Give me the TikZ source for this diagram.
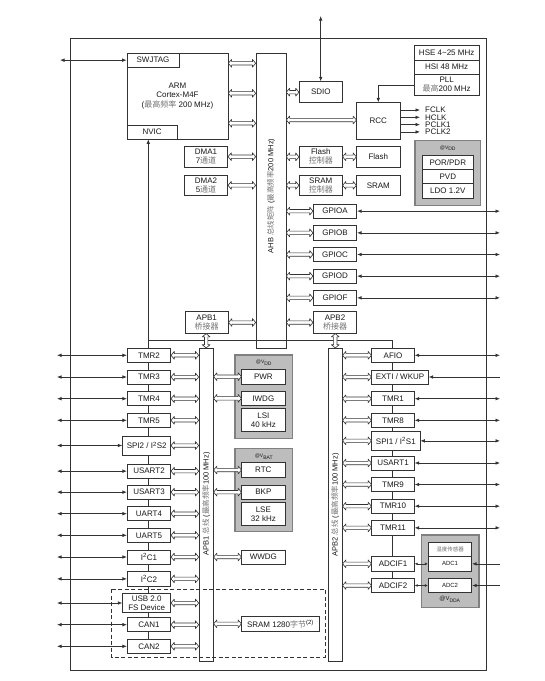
\documentclass[tikz,border=0pt]{standalone}
\usepackage{fontspec}
\setmainfont{Liberation Sans}
\newfontfamily\cjk{Noto Sans CJK SC}
\usetikzlibrary{arrows.meta,calc}
\definecolor{zhc}{gray}{0.45}
\definecolor{ln}{gray}{0.2}
\definecolor{txt}{gray}{0.1}
\newcommand\zh[1]{{\cjk\color{zhc}#1}}
\newcommand\blk[7][]{\node[box,minimum width={(#5-#3)*1pt},minimum height={(#6-#4)*1pt},#1] (#2) at ({(#3+#5)/2},{(#4+#6)/2}) {#7};}
\newcommand\harr[2]{%
 \path (#1) coordinate (hs) (#2) coordinate (he);
 \draw[hollow] (hs) -- ($(hs)!3.2pt!(he)!3.9pt!90:(he)$) -- ($(hs)!3.2pt!(he)!1.7pt!90:(he)$)
   -- ($(he)!3.2pt!(hs)!1.7pt!-90:(hs)$) -- ($(he)!3.2pt!(hs)!3.9pt!-90:(hs)$) -- (he)
   -- ($(he)!3.2pt!(hs)!3.9pt!90:(hs)$) -- ($(he)!3.2pt!(hs)!1.7pt!90:(hs)$)
   -- ($(hs)!3.2pt!(he)!1.7pt!-90:(he)$) -- ($(hs)!3.2pt!(he)!3.9pt!-90:(he)$) -- cycle;}
\tikzset{
  box/.style={draw=ln, fill=white, line width=0.7pt, inner sep=0pt, align=center, text=txt, font=\fontsize{8}{9}\selectfont},
  graybox/.style={draw=black!50, fill=black!26, line width=1.4pt},
  hollow/.style={draw=ln, fill=white, line width=0.6pt, line join=round},
  pin/.style={draw=ln, line width=0.7pt, {Latex[length=4.5pt,width=3.6pt]}-{Latex[length=4.5pt,width=3.6pt]}},
  pinin/.style={draw=ln, line width=0.7pt, {Latex[length=4.5pt,width=3.6pt]}-},
  wire/.style={draw=ln, line width=0.7pt},
  vlab/.style={font=\fontsize{7}{8}\selectfont, text=txt, inner sep=0pt},
  buslab/.style={rotate=90, font=\fontsize{7.5}{8}\selectfont, text=txt, inner sep=0pt},
}
\begin{document}
\begin{tikzpicture}[x=1pt,y=-1pt]
\useasboundingbox (0,0) rectangle (545,681);
\coordinate (pinL) at (57,0);
\coordinate (pinR) at (500,0);
\coordinate (sdtop) at (320.7,16);
% frame
\draw[wire] (70,38) rectangle (486,670);
% interrupt lines
\coordinate (jl) at (148.3,340);
\coordinate (jr) at (392.7,340);
% ---------- top part ----------
\blk{arm}{127}{53}{228}{139}{}
\node[font=\fontsize{8}{9.6}\selectfont, text=txt, align=center] (armtxt) at (177.5,96) {ARM\\Cortex-M4F\\(\zh{最高频率} 200 MHz)};
\blk{swj}{127}{53}{179}{67.3}{SWJTAG}
\blk{nvic}{127}{125}{177.3}{139}{NVIC}
\blk{dma1}{184.3}{146}{227.7}{167.3}{DMA1\\7\zh{通道}}
\blk{dma2}{184.3}{175}{227.7}{195.7}{DMA2\\5\zh{通道}}
\blk{ahb}{256}{53}{286}{348.3}{}
\node[buslab] (ahbl) at (271,196) {AHB \zh{总线矩阵} (\zh{最高频率}200 MHz)};
\blk{sdio}{299.3}{81.7}{342.3}{102.7}{SDIO}
\blk{rcc}{356.7}{102.7}{400}{139}{RCC}
\blk{hse}{414.3}{45}{479}{60}{HSE 4\textasciitilde25 MHz}
\blk{hsi}{414.3}{60}{479}{74}{HSI 48 MHz}
\blk{pll}{414.3}{74}{479}{95.7}{PLL\\\zh{最高}200 MHz}
\blk{flashc}{299.3}{146}{342.3}{167.7}{Flash\\\zh{控制器}}
\blk{flash}{356.7}{146}{400}{167.7}{Flash}
\blk{sramc}{299.3}{175}{342.3}{195.7}{SRAM\\\zh{控制器}}
\blk{sram}{356.7}{175}{400}{195.7}{SRAM}
\draw[graybox] (415,140.3) rectangle (480.7,205.7);
\node[vlab, font=\fontsize{5}{6}\selectfont] (vddl1) at (448,148.3) {@V\textsubscript{DD}};
\blk{por}{422.3}{155}{473.3}{169.3}{POR/PDR}
\blk{pvd}{422.3}{169.3}{473.3}{183.7}{PVD}
\blk{ldo}{422.3}{183.7}{473.3}{198.3}{LDO 1.2V}
\blk{gpioa}{313.3}{204}{356.7}{218.3}{GPIOA}
\blk{gpiob}{313.3}{225.7}{356.7}{240}{GPIOB}
\blk{gpioc}{313.3}{247.3}{356.7}{261.7}{GPIOC}
\blk{gpiod}{313.3}{269}{356.7}{283.3}{GPIOD}
\blk{gpiof}{313.3}{290.7}{356.7}{305}{GPIOF}
\blk{apb1br}{185}{311.7}{228.3}{333.3}{APB1\\\zh{桥接器}}
\blk{apb2br}{313.3}{311.7}{356.7}{333.3}{APB2\\\zh{桥接器}}
% top connectors
\draw[pin] (swj.west) -- (swj.west -| 60,0);
\draw[pin] (sdio.north -| sdtop) -- (sdtop);
\draw[wire, -{Latex[length=4.5pt,width=3.6pt]}] (nvic.south -| jl) ++(0,209.3) -- (nvic.south -| jl);
\draw[wire, -{Latex[length=4.5pt,width=3.6pt]}] (pll.west |- 0,85.7) -| (rcc.north -| 378.3,0);
\foreach \yy/\nm in {110/FCLK,117.3/HCLK,124.6/PCLK1,131.9/PCLK2}{
  \draw[wire, -{Latex[length=4.5pt,width=3.6pt]}] (rcc.east |- 0,\yy) -- (420,\yy);
  \node[anchor=west, inner sep=0pt, font=\fontsize{8}{8}\selectfont, text=txt] (clk\nm) at (425,\yy) {\nm};
}
\foreach \yy in {63.3,93.3,123.3}{ \harr{arm.east |- 0,\yy}{ahb.west |- 0,\yy} }
\harr{dma1.east}{dma1.east -| ahb.west}
\harr{dma2.east}{dma2.east -| ahb.west}
\harr{sdio.west -| ahb.east}{sdio.west}
\harr{ahb.east |- 0,120}{rcc.west |- 0,120}
\harr{flashc.west -| ahb.east}{flashc.west}
\harr{flashc.east}{flash.west}
\harr{sramc.west -| ahb.east}{sramc.west}
\harr{sramc.east}{sram.west}
\foreach \g in {gpioa,gpiob,gpioc,gpiod,gpiof}{
  \harr{\g.west -| ahb.east}{\g.west}
  \draw[pin] (\g.east) -- (\g.east -| pinR);
}
\harr{apb1br.east}{apb1br.east -| ahb.west}
\harr{apb2br.west -| ahb.east}{apb2br.west}
% ---------- APB part ----------
\draw[wire] (jl) -- (jr);
\draw[wire] (148.3,340) -- (148.3,646);
\draw[wire] (jr) -- (392.7,585);
\blk{apb1}{199}{348.3}{213.3}{661.7}{}
\node[buslab] (apb1l) at (206.2,504) {APB1 \zh{总线} (\zh{最高频率}100 MHz)};
\blk{apb2}{328.3}{348.3}{342.3}{661.7}{}
\node[buslab] (apb2l) at (335.3,505) {APB2 \zh{总线} (\zh{最高频率}100 MHz)};
\harr{apb1br.south -| apb1.north}{apb1.north}
\harr{apb2br.south -| apb2.north}{apb2.north}
% dashed region
\draw[ln, line width=0.7pt, dash pattern=on 4pt off 2.5pt] (111.7,589) rectangle (325,657.3);
% left peripherals
\blk{tmr2}{127.3}{348.3}{170.7}{362.3}{TMR2}
\blk{tmr3}{127.3}{370}{170.7}{384}{TMR3}
\blk{tmr4}{127.3}{391.7}{170.7}{405.7}{TMR4}
\blk{tmr5}{127.3}{413.3}{170.7}{427.3}{TMR5}
\blk{spi2}{122.7}{436}{170.7}{455}{SPI2 / I\textsuperscript{2}S2}
\blk{usart2}{127.3}{464}{170.7}{478.3}{USART2}
\blk{usart3}{127.3}{485}{170.7}{499.3}{USART3}
\blk{uart4}{127.3}{506.7}{170.7}{520.7}{UART4}
\blk{uart5}{127.3}{528.3}{170.7}{542.3}{UART5}
\blk{i2c1}{127.3}{550}{170.7}{564}{I\textsuperscript{2}C1}
\blk{i2c2}{127.3}{571.7}{170.7}{586}{I\textsuperscript{2}C2}
\blk{usb}{122.7}{593.3}{170.7}{612.7}{USB 2.0\\FS Device}
\blk{can1}{127.3}{617.7}{170.7}{631.7}{CAN1}
\blk{can2}{127.3}{639.3}{170.7}{653.3}{CAN2}
\foreach \p in {tmr2,tmr3,tmr4,tmr5,spi2,usart2,usart3,uart4,uart5,i2c1,i2c2,usb,can1,can2}{
  \harr{\p.east}{\p.east -| apb1.west}
  \draw[pin] (\p.west) -- (\p.west -| pinL);
}
% middle
\draw[graybox] (235,355) rectangle (292.7,438.3);
\node[vlab, font=\fontsize{5}{6}\selectfont] (vddl2) at (264,363) {@V\textsubscript{DD}};
\blk{pwr}{241.7}{369.3}{285}{384}{PWR}
\blk{iwdg}{241.7}{391}{285}{405.7}{IWDG}
\blk{lsi}{241.7}{408.3}{285}{431.7}{LSI\\40 kHz}
\draw[graybox] (235,448.3) rectangle (292.7,531.7);
\node[vlab, font=\fontsize{5}{6}\selectfont] (vbatl) at (264,456.5) {@V\textsubscript{BAT}};
\blk{rtc}{241.7}{462.7}{285}{477.3}{RTC}
\blk{bkp}{241.7}{485}{285}{499.3}{BKP}
\blk{lse}{241.7}{502.3}{285}{525.7}{LSE\\32 kHz}
\blk{wwdg}{241.7}{550}{285}{564}{WWDG}
\blk{sramb}{241.7}{616.7}{319.3}{631}{SRAM 1280\zh{字节}\textsuperscript{(2)}}
\foreach \p in {pwr,iwdg,rtc,bkp,wwdg,sramb}{
  \harr{\p.west -| apb1.east}{\p.west}
}
% right peripherals
\blk{afio}{371.7}{348.3}{414.3}{362.3}{AFIO}
\blk{exti}{371.7}{370}{428.3}{384}{EXTI / WKUP}
\blk{tmr1}{371.7}{391.7}{414.3}{405.7}{TMR1}
\blk{tmr8}{371.7}{413.3}{414.3}{427.3}{TMR8}
\blk{spi1}{371.7}{431.7}{420}{450}{SPI1 / I\textsuperscript{2}S1}
\blk{usart1}{371.7}{456}{414.3}{470}{USART1}
\blk{tmr9}{371.7}{477.3}{414.3}{491.7}{TMR9}
\blk{tmr10}{371.7}{499}{414.3}{513.3}{TMR10}
\blk{tmr11}{371.7}{520.7}{414.3}{535}{TMR11}
\blk{adcif1}{371.7}{556.7}{414.3}{571}{ADCIF1}
\blk{adcif2}{371.7}{578.3}{414.3}{592.7}{ADCIF2}
\foreach \p in {afio,exti,tmr1,tmr8,spi1,usart1,tmr9,tmr10,tmr11,adcif1,adcif2}{
  \harr{\p.west -| apb2.east}{\p.west}
}
\foreach \p in {afio,tmr1,tmr8,spi1,usart1,tmr9,tmr10,tmr11}{
  \draw[pin] (\p.east) -- (\p.east -| pinR);
}
\draw[pinin] (exti.east) -- (exti.east -| pinR);
\draw[graybox] (421.7,535) rectangle (479,607.3);
\blk[font=\fontsize{5.5}{6}\selectfont]{temp}{428.3}{542.3}{471.7}{556.7}{\zh{温度传感器}}
\blk[font=\fontsize{6}{7}\selectfont]{adc1}{428.3}{556.7}{471.7}{571}{ADC1}
\blk[font=\fontsize{6}{7}\selectfont]{adc2}{428.3}{578.3}{471.7}{592.7}{ADC2}
\node[vlab, font=\fontsize{6}{7}\selectfont] (vddal) at (450,599.5) {@V\textsubscript{DDA}};
\draw[pin, {Latex[length=3pt,width=2.8pt]}-{Latex[length=3pt,width=2.8pt]}] (adcif1.east) -- (adc1.west);
\draw[pin, {Latex[length=3pt,width=2.8pt]}-{Latex[length=3pt,width=2.8pt]}] (adcif2.east) -- (adc2.west);
\draw[pinin] (adc1.east) -- (adc1.east -| pinR);
\draw[pinin] (adc2.east) -- (adc2.east -| pinR);
\end{tikzpicture}
\end{document}
